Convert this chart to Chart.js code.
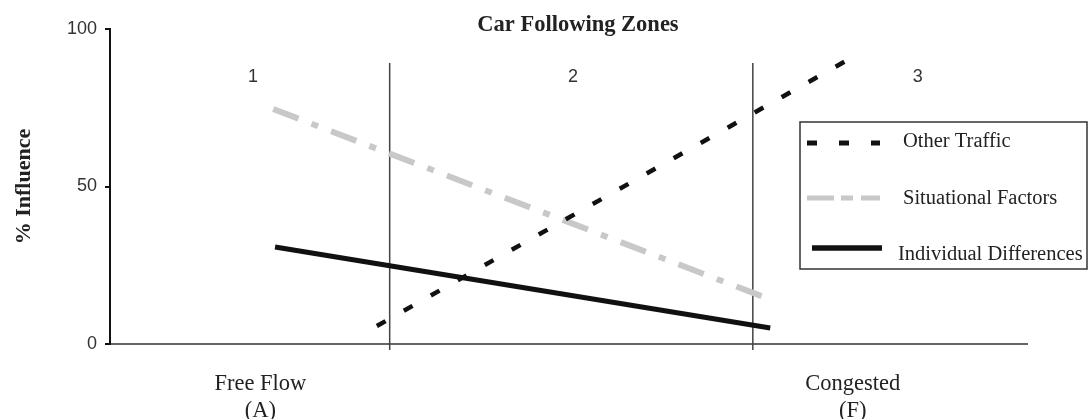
<!DOCTYPE html>
<html>
<head>
<meta charset="utf-8">
<title>Car Following Zones</title>
<script src="https://cdn.jsdelivr.net/npm/chart.js@4.4.1/dist/chart.umd.min.js"></script>
<style>
  html, body { margin: 0; padding: 0; background: #fff; }
  #wrap { width: 1090px; height: 419px; }
</style>
</head>
<body>
<div id="wrap"><canvas id="myChart" width="1090" height="419"></canvas></div>
<script>
const chartTitle = 'Car Following Zones'
const yTitle = '% Influence'
const seriesLabels = ['Other Traffic', 'Situational Factors', 'Individual Differences']

// each series is a straight line between two points (x 0-100 across the axis)
const otherTrafficX = [29.1, 81.0]
const otherTrafficY = [5.7, 91.1]
const situationalX = [17.8, 71.6]
const situationalY = [74.6, 14.6]
const individualX = [18.0, 72.0]
const individualY = [30.8, 5.1]

const zoneBounds = [30.5, 70.1]
const zoneLineY = [89.2, -1.9]
const zoneNames = ['1', '2', '3']
const zoneNameX = [15.6, 50.5, 88.1]
const zoneNameY = 84.8

const yTicks = [0, 50, 100]
const xTickPos = [16.4, 81.0]
const xTickLabels = [['Free Flow', '(A)'], ['Congested', '(F)']]

const toPoints = (xs, ys) => xs.map((x, i) => ({ x: x, y: ys[i] }))

const serif = "'Liberation Serif', 'Times New Roman', serif"
const sans = "'Liberation Sans', Arial, sans-serif"

const datasets = [
    {
        label: seriesLabels[0],
        data: toPoints(otherTrafficX, otherTrafficY),
        borderColor: '#111',
        borderWidth: 4.5,
        borderDash: [10, 21],
        borderCapStyle: 'butt'
    },
    {
        label: seriesLabels[1],
        data: toPoints(situationalX, situationalY),
        borderColor: '#c8c8c8',
        borderWidth: 6,
        borderDash: [27, 14, 7, 14],
        borderCapStyle: 'butt'
    },
    {
        label: seriesLabels[2],
        data: toPoints(individualX, individualY),
        borderColor: '#111',
        borderWidth: 5
    }
]

zoneBounds.forEach((b) => {
    datasets.push({
        label: 'zone',
        data: toPoints([b, b], zoneLineY),
        borderColor: '#444',
        borderWidth: 1.5
    })
})

// title, zone numbers and the boxed legend
const extras = {
    id: 'extras',
    afterDraw(chart) {
        const ctx = chart.ctx
        const xs = chart.scales.x
        const ys = chart.scales.y
        ctx.save()

        ctx.fillStyle = '#222'
        ctx.font = 'bold 22.5px ' + serif
        ctx.textAlign = 'center'
        ctx.textBaseline = 'middle'
        ctx.fillText(chartTitle, 578, 25)

        ctx.font = '18px ' + sans
        ctx.fillStyle = '#333'
        zoneNames.forEach((z, i) => {
            ctx.fillText(z, xs.getPixelForValue(zoneNameX[i]), ys.getPixelForValue(zoneNameY))
        })

        // legend box
        ctx.fillStyle = '#fff'
        ctx.fillRect(800, 122, 287, 147)
        ctx.strokeStyle = '#333'
        ctx.lineWidth = 1.5
        ctx.strokeRect(800, 122, 287, 147)

        const rowY = [143, 198, 248]
        const textY = [142, 199, 255]
        const textX = [903, 903, 898]
        const sampleDash = [[10, 22], [27, 7, 12, 8], []]
        const sampleWidth = [5, 5, 5.5]
        ctx.textAlign = 'left'
        ctx.font = '20.5px ' + serif
        for (let i = 0; i < 3; i++) {
            const ds = chart.data.datasets[i]
            ctx.beginPath()
            ctx.strokeStyle = ds.borderColor
            ctx.lineWidth = sampleWidth[i]
            ctx.setLineDash(sampleDash[i])
            ctx.moveTo(i === 2 ? 812 : 807, rowY[i])
            ctx.lineTo(i === 2 ? 882 : 880, rowY[i])
            ctx.stroke()
            ctx.setLineDash([])
            ctx.fillStyle = '#222'
            ctx.fillText(ds.label, textX[i], textY[i])
        }
        ctx.restore()
    }
}

const ctx = document.getElementById('myChart').getContext('2d')
const myChart = new Chart(ctx, {
    type: 'scatter',
    data: { datasets: datasets },
    options: {
        responsive: false,
        animation: false,
        showLine: true,
        clip: false,
        layout: { padding: { top: 29, right: 63, left: 0, bottom: 0 } },
        elements: { point: { radius: 0, hoverRadius: 0 } },
        plugins: {
            legend: { display: false },
            title: { display: false },
            tooltip: { enabled: false }
        },
        scales: {
            x: {
                type: 'linear',
                min: 0,
                max: 100,
                afterFit: (s) => { s.height = 75 },
                afterBuildTicks: (s) => { s.ticks = xTickPos.map((v) => ({ value: v })) },
                grid: { display: false, drawTicks: false },
                border: { display: true, color: '#666', width: 2 },
                ticks: {
                    padding: 26,
                    maxRotation: 0,
                    autoSkip: false,
                    color: '#222',
                    font: { family: serif, size: 22.5, lineHeight: 1.22 },
                    callback: (v, i) => xTickLabels[i]
                }
            },
            y: {
                min: 0,
                max: 100,
                afterFit: (s) => { s.width = 110 },
                afterBuildTicks: (s) => { s.ticks = yTicks.map((v) => ({ value: v })) },
                grid: { drawOnChartArea: false, drawTicks: true, tickLength: 5, color: '#111', lineWidth: 2 },
                border: { display: true, color: '#111', width: 2 },
                ticks: {
                    padding: 8,
                    color: '#333',
                    font: { family: sans, size: 18 }
                },
                title: {
                    display: true,
                    text: yTitle,
                    color: '#222',
                    padding: { top: 11, bottom: 0 },
                    font: { family: serif, size: 22, weight: 'bold' }
                }
            }
        }
    },
    plugins: [extras]
})
</script>
</body>
</html>
